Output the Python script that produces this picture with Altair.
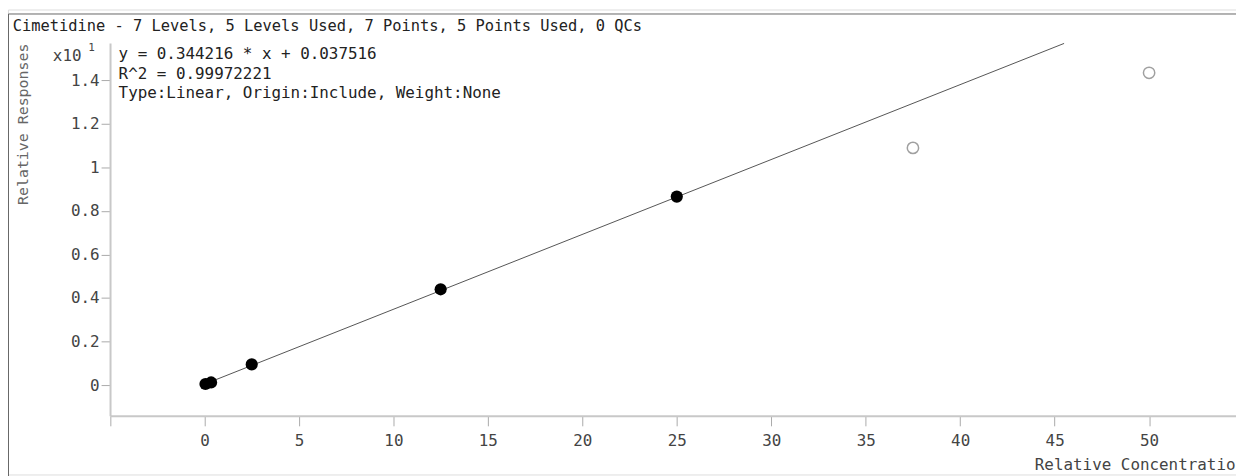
import altair as alt
import pandas as pd

# ---- data ----
conc_used = [0.05, 0.35, 2.5, 12.5, 25.0]
resp_used = [0.05, 0.12, 0.95, 4.4, 8.66]
conc_excluded = [37.5, 50.0]
resp_excluded = [10.9, 14.35]
fit_conc = [0.0, 45.5]
fit_resp = [0.04, 15.7]
x_tick_values = [-5, 0, 5, 10, 15, 20, 25, 30, 35, 40, 45, 50, 55]
y_tick_values = [0, 2, 4, 6, 8, 10, 12, 14]

title_text = "Cimetidine - 7 Levels, 5 Levels Used, 7 Points, 5 Points Used, 0 QCs"
eq_lines = [
    "y = 0.344216 * x  + 0.037516",
    "R^2 = 0.99972221",
    "Type:Linear, Origin:Include, Weight:None",
]

FONT = "DejaVu Sans Mono"
W, H = 1236, 468

used = pd.DataFrame({"conc": conc_used, "resp": resp_used})
excl = pd.DataFrame({"conc": conc_excluded, "resp": resp_excluded})
fit = pd.DataFrame({"conc": fit_conc, "resp": fit_resp})

x_enc = alt.X(
    "conc:Q",
    scale=alt.Scale(domain=[-5, 54.6], range=[102.7, W], nice=False, zero=False),
    axis=alt.Axis(
        values=x_tick_values,
        labelExpr="datum.value < 0 ? '' : datum.label",
        offset=409 - H,
        zindex=1,
        grid=False,
        domainColor="#c8c8c8",
        domainWidth=2,
        tickColor="#aaaaaa",
        tickSize=10,
        tickWidth=1,
        labelFont=FONT,
        labelFontSize=16,
        labelColor="#444444",
        labelPadding=7,
        labelOverlap=False,
        labelFlush=False,
        title="Relative Concentration",
        titleFont=FONT,
        titleFontSize=16,
        titleFontWeight="normal",
        titleColor="#444444",
        titleX=1033,
        titleY=49,
        titleAlign="left",
        titleBaseline="middle",
        titleAngle=0,
    ),
)

y_enc = alt.Y(
    "resp:Q",
    scale=alt.Scale(domain=[-1.416, 15.72], range=[409, 33.7], nice=False, zero=False),
    axis=alt.Axis(
        values=y_tick_values,
        labelExpr="'' + (datum.value / 10)",
        offset=-102.7,
        zindex=1,
        grid=False,
        domainColor="#c8c8c8",
        domainWidth=2,
        tickColor="#aaaaaa",
        tickSize=9,
        tickWidth=1,
        labelFont=FONT,
        labelFontSize=16,
        labelColor="#444444",
        labelPadding=2,
        labelOverlap=False,
        labelFlush=False,
        title="Relative Responses",
        titleFont=FONT,
        titleFontSize=15,
        titleFontWeight="normal",
        titleColor="#666666",
        titleX=-88,
        titleY=115,
        titleAngle=270,
        titleAlign="center",
        titleBaseline="middle",
    ),
)

one = alt.Data(values=[{}])

frame = alt.Chart(one).mark_rect(
    fill="white", fillOpacity=0, stroke="#666666", strokeWidth=1
).encode(x=alt.value(0.5), x2=alt.value(3000), y=alt.value(4.5), y2=alt.value(3000))

fit_line = alt.Chart(fit).mark_line(color="#555555", strokeWidth=1).encode(x=x_enc, y=y_enc)

used_pts = alt.Chart(used).mark_point(
    shape="circle", filled=True, color="black", opacity=1, size=150
).encode(x=x_enc, y=y_enc)

excl_pts = alt.Chart(excl).mark_point(
    shape="circle", filled=False, color="#a0a0a0", opacity=1, size=130, strokeWidth=1.5
).encode(x=x_enc, y=y_enc)

def label(txt, x, y, size=16, color="#222222", align="left"):
    return alt.Chart(one).mark_text(
        font=FONT, fontSize=size, color=color, align=align, baseline="middle"
    ).encode(x=alt.value(x), y=alt.value(y), text=alt.value(txt))

texts = [
    label(title_text, 4.7, 17, size=15.5),
    label(eq_lines[0], 111.3, 45),
    label(eq_lines[1], 111.3, 64.5),
    label(eq_lines[2], 111.3, 84),
    label("x10", 74, 47, color="#444444", align="right"),
    label("1", 84, 39, size=11, color="#444444", align="center"),
]

chart = alt.layer(frame, fit_line, used_pts, excl_pts, *texts).properties(
    width=W,
    height=H,
    autosize=alt.AutoSizeParams(type="none"),
    padding=0,
).configure_view(stroke=None).configure(background="white")

chart.save("out.html", embed_options={"renderer": "svg", "actions": False})
